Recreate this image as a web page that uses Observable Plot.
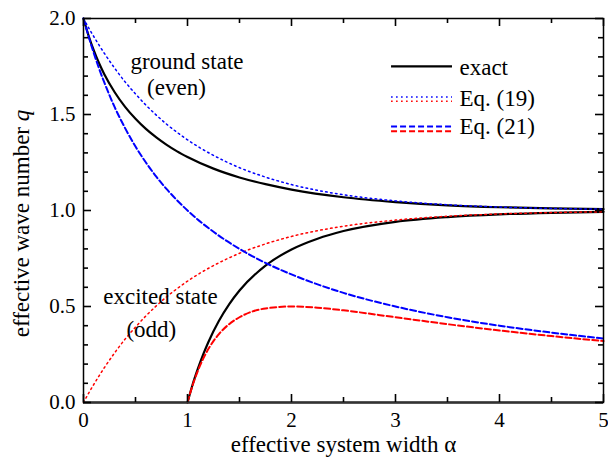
<!DOCTYPE html>
<html><head><meta charset="utf-8">
<script src="https://cdn.jsdelivr.net/npm/d3@7"></script>
<script src="https://cdn.jsdelivr.net/npm/@observablehq/plot@0.6"></script>
<style>
body{margin:0;background:#fff}
#chart{width:608px;height:461px}
#chart svg, #chart svg text{font-family:"Liberation Serif","Times New Roman",serif !important;}
</style>
</head><body><div id="chart"></div>
<script>
// ---- data ----
const alphaGround = [0,0.05,0.1,0.15,0.2,0.3,0.4,0.5,0.6,0.7,0.8,0.9,1.0,1.25,1.5,1.75,2.0,2.5,3.0,3.5,4.0,4.5,5.0];
const exactGround = [2.000,1.909,1.833,1.767,1.710,1.616,1.540,1.478,1.425,1.381,1.342,1.308,1.279,1.218,1.172,1.137,1.109,1.069,1.044,1.027,1.017,1.011,1.007];
const eq19Ground  = [2.000,1.951,1.905,1.861,1.819,1.741,1.670,1.607,1.549,1.497,1.449,1.407,1.368,1.287,1.223,1.174,1.135,1.082,1.050,1.030,1.018,1.011,1.007];
const eq21Ground  = [2.000,1.905,1.818,1.739,1.667,1.538,1.429,1.333,1.250,1.176,1.111,1.053,1.000,0.889,0.800,0.727,0.667,0.571,0.500,0.444,0.400,0.364,0.333];
const eq19Excited = [0.000,0.049,0.095,0.139,0.181,0.259,0.330,0.393,0.451,0.503,0.551,0.593,0.632,0.713,0.777,0.826,0.865,0.918,0.950,0.970,0.982,0.989,0.993];

const alphaExcited = [1.0,1.05,1.1,1.15,1.2,1.3,1.4,1.5,1.75,2.0,2.25,2.5,3.0,3.5,4.0,4.5,5.0];
const exactExcited = [0.000,0.095,0.176,0.249,0.314,0.423,0.511,0.583,0.713,0.797,0.853,0.893,0.941,0.966,0.980,0.988,0.993];
const eq21Excited  = [0.000,0.091,0.165,0.227,0.278,0.355,0.408,0.444,0.490,0.500,0.494,0.480,0.444,0.408,0.375,0.346,0.320];

const xMajor = [0,1,2,3,4,5];
const xMinor = [0.5,1.5,2.5,3.5,4.5];
const yMajor = [0,0.5,1.0,1.5,2.0];
const yMinor = [0.1,0.2,0.3,0.4,0.6,0.7,0.8,0.9,1.1,1.2,1.3,1.4,1.6,1.7,1.8,1.9];
const xTickLabels = ["0","1","2","3","4","5"];
const yTickLabels = ["0.0","0.5","1.0","1.5","2.0"];

const xLabel = "effective system width \u03b1";
const yLabel = "effective wave number ";
const notes = [
  {text:"ground state", a:0.995, q:1.775},
  {text:"(even)", a:0.894, q:1.640},
  {text:"excited state", a:0.74, q:0.550},
  {text:"(odd)", a:0.652, q:0.380}
];
const legendLabels = [
  {text:"exact", q:1.742},
  {text:"Eq. (19)", q:1.585},
  {text:"Eq. (21)", q:1.4375}
];
const legendX = [2.962, 3.548, 3.615];

// ---- build tables ----
const zipTable = (xs, ys) => xs.map((a, i) => ({a, q: ys[i]}));
const BLUE = "#0000ff", RED = "#ff0000";
const dotted = "1.6 3.4", dashed = "6 3";
const serif = "Liberation Serif";
const W = 608, H = 461, ML = 83, MR = 5, MT = 18, MB = 59;
const FW = W - ML - MR, FH = H - MT - MB;
const xDom = [0, 5], yDom = [0, 2];
// tick length in pixels converted to data units via the frame size
const dxOf = px => px / FW * (xDom[1] - xDom[0]);
const dyOf = px => px / FH * (yDom[1] - yDom[0]);
const ticks = (data, side, len) => {
  const opt = {stroke: "black", strokeWidth: 1.6};
  if (side === "bottom") return Plot.ruleX(data, {...opt, x: d => d, y1: yDom[0], y2: yDom[0] + dyOf(len)});
  if (side === "top") return Plot.ruleX(data, {...opt, x: d => d, y1: yDom[1] - dyOf(len), y2: yDom[1]});
  if (side === "left") return Plot.ruleY(data, {...opt, y: d => d, x1: xDom[0], x2: xDom[0] + dxOf(len)});
  return Plot.ruleY(data, {...opt, y: d => d, x1: xDom[1] - dxOf(len), x2: xDom[1]});
};

const chart = Plot.plot({
  width: W, height: H,
  marginLeft: ML, marginRight: MR, marginTop: MT, marginBottom: MB,
  x: {domain: xDom},
  y: {domain: yDom},
  style: {fontFamily: serif, color: "black", background: "white", overflow: "visible"},
  marks: [
    // curves
    Plot.line(zipTable(alphaGround, exactGround), {x:"a", y:"q", stroke:"black", strokeWidth:2.2, curve:"monotone-x"}),
    Plot.line(zipTable(alphaExcited, exactExcited), {x:"a", y:"q", stroke:"black", strokeWidth:2.2, curve:"monotone-x"}),
    Plot.line(zipTable(alphaGround, eq19Ground), {x:"a", y:"q", stroke:BLUE, strokeWidth:1.5, strokeDasharray:dotted, curve:"monotone-x"}),
    Plot.line(zipTable(alphaGround, eq19Excited), {x:"a", y:"q", stroke:RED, strokeWidth:1.5, strokeDasharray:dotted, curve:"monotone-x"}),
    Plot.line(zipTable(alphaGround, eq21Ground), {x:"a", y:"q", stroke:BLUE, strokeWidth:2, strokeDasharray:dashed, curve:"monotone-x"}),
    Plot.line(zipTable(alphaExcited, eq21Excited), {x:"a", y:"q", stroke:RED, strokeWidth:2, strokeDasharray:dashed, curve:"monotone-x"}),
    // frame
    Plot.frame({stroke:"black", strokeWidth:1.5}),
    Plot.ruleY([0], {stroke:"#333", strokeWidth:2.5}),
    // inward ticks on four sides
    ticks(xMajor, "bottom", 8), ticks(xMinor, "bottom", 5),
    ticks(xMajor, "top", 8), ticks(xMinor, "top", 5),
    ticks(yMajor, "left", 8), ticks(yMinor, "left", 5),
    ticks(yMajor, "right", 8), ticks(yMinor, "right", 5),
    // tick labels
    Plot.axisX(xMajor, {anchor:"bottom", tickSize:0, tickPadding:10, tickFormat:(d, i) => xTickLabels[i], fontSize:21, fontFamily:serif, label:null}),
    Plot.axisY(yMajor, {anchor:"left", tickSize:0, tickPadding:8, tickFormat:(d, i) => yTickLabels[i], fontSize:21, fontFamily:serif, label:null}),
    // axis titles
    Plot.text([xLabel], {frameAnchor:"bottom", textAnchor:"middle", dy:49, fontSize:23, fontFamily:serif, text:d => d}),
    Plot.text([yLabel], {frameAnchor:"left", textAnchor:"middle", dx:-62, dy:13, rotate:-90, fontSize:23, fontFamily:serif, text:d => d, className:"ylab"}),
    // annotations
    Plot.text(notes, {x:"a", y:"q", text:"text", fontSize:23, fontFamily:serif}),
    // legend
    Plot.ruleY([legendLabels[0]], {y:"q", x1:legendX[0], x2:legendX[1], dy:-1.7, stroke:"black", strokeWidth:2.2}),
    Plot.ruleY([legendLabels[1]], {y:"q", x1:legendX[0], x2:legendX[1], dy:-1.3, stroke:BLUE, strokeWidth:1.5, strokeDasharray:dotted}),
    Plot.ruleY([legendLabels[1]], {y:"q", x1:legendX[0], x2:legendX[1], dy:3, stroke:RED, strokeWidth:1.5, strokeDasharray:dotted}),
    Plot.ruleY([legendLabels[2]], {y:"q", x1:legendX[0], x2:legendX[1], dy:0, stroke:BLUE, strokeWidth:2, strokeDasharray:dashed}),
    Plot.ruleY([legendLabels[2]], {y:"q", x1:legendX[0], x2:legendX[1], dy:4.7, stroke:RED, strokeWidth:2, strokeDasharray:dashed}),
    Plot.text(legendLabels, {x:() => legendX[2], y:"q", text:"text", textAnchor:"start", fontSize:23, fontFamily:serif})
  ]
});

// italic q in the y-axis title
const yl = d3.select(chart).select("g.ylab text");
if (!yl.empty()) {
  yl.append("tspan").style("font-style", "italic").text("q");
}
document.getElementById("chart").appendChild(chart);
</script>
</body></html>
